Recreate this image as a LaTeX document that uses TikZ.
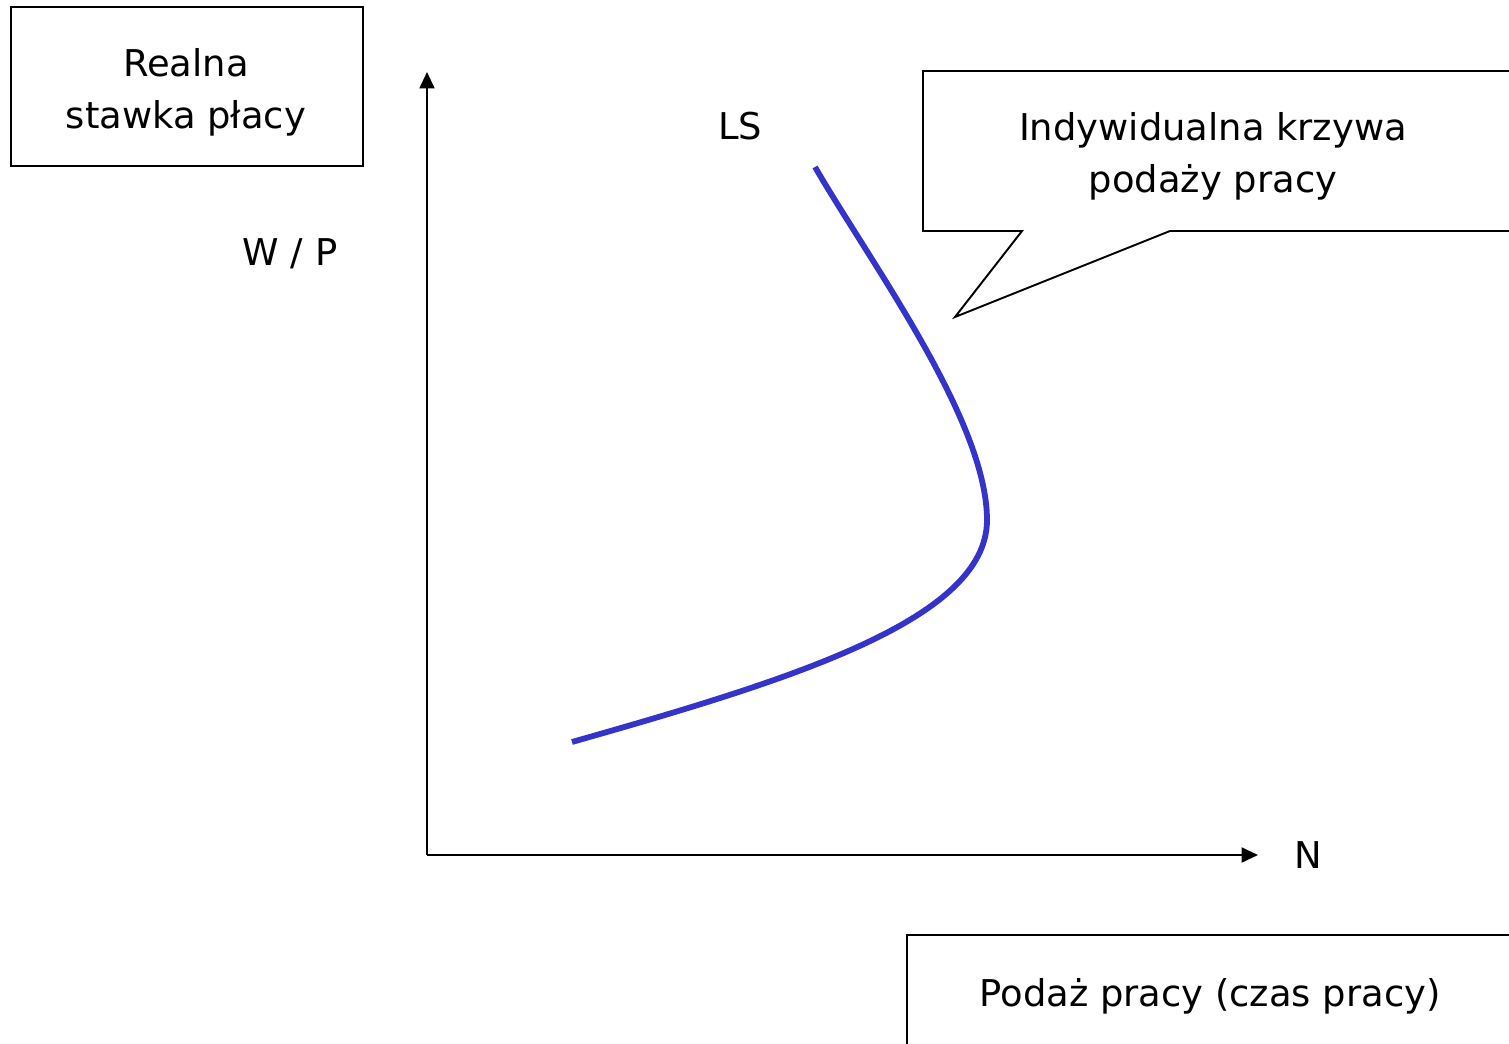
\documentclass[tikz,border=0pt]{standalone}
\usepackage{fontspec}
\setmainfont{DejaVu Sans}
\usetikzlibrary{arrows.meta}
\definecolor{curveblue}{RGB}{52,52,202}

\begin{document}
\begin{tikzpicture}[x=0.02cm, y=-0.02cm, font=\fontsize{21}{29.5}\selectfont,
    box/.style={draw, line width=1.1pt},
    axis/.style={line width=1.3pt, -{Triangle[length=0.33cm, width=0.3cm]}}]

    \useasboundingbox (0,0) rectangle (1509,1044);
    \clip (0,0) rectangle (1509,1044);

    \node (o) at (427,855) {};
    \coordinate (ytop) at (427,72);
    \coordinate (xend) at (1258,855);
    \node (wp) at (290,254) {W / P};
    \node (n) at (1308,855) {N};
    \node (ls) at (740,126) {LS};

    \draw [axis] (o.center) to (ytop);
    \draw [axis] (o.center) to (xend);

    % label boxes
    \draw [box] (11,7) rectangle (363,166);
    \node[align=center] (wage) at (186,92) {Realna\\stawka płacy};
    \draw [box] (907,935) rectangle (1530,1060);
    \node (supply) at (1210,996) {Podaż pracy (czas pracy)};

    % callout
    \draw [box] (1022,231) -- (955,317) -- (1170,231) -- (1530,231) -- (1530,71) -- (923,71) -- (923,231) -- cycle;
    \node[align=center] (indiv) at (1213,156) {Indywidualna krzywa\\podaży pracy};

    % labour supply curve
    \coordinate (top) at (815,167);
    \coordinate (turn) at (987,520);
    \coordinate (low) at (572,742);
    \draw [curveblue, line width=3.3pt] (top) .. controls (870,262) and (987,420) .. (turn)
        .. controls (987,620) and (790,680) .. (low);

\end{tikzpicture}
\end{document}
